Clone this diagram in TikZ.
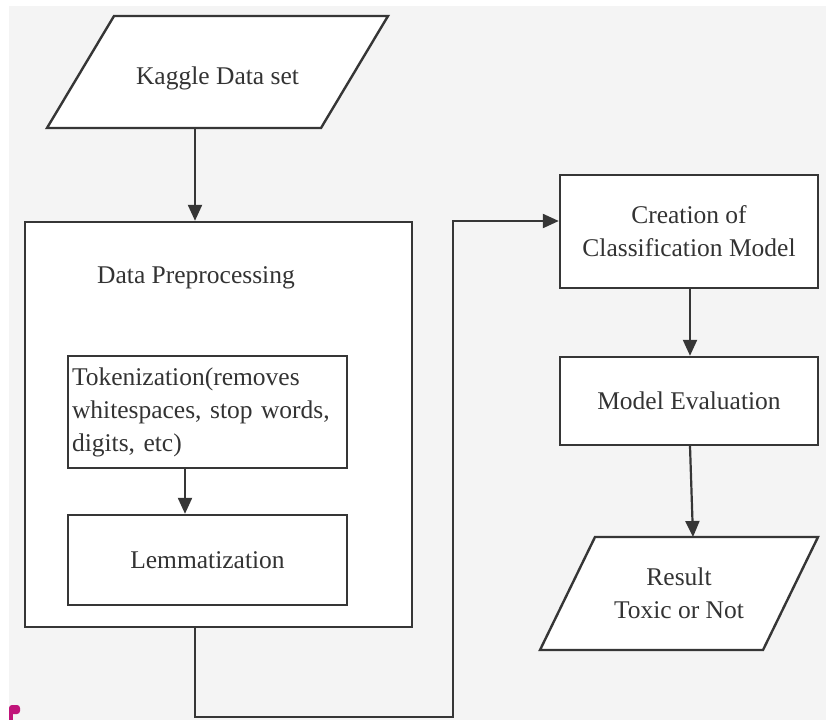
\documentclass[tikz,border=0pt]{standalone}
\usepackage{fontspec}
\setmainfont{Liberation Serif}
\usetikzlibrary{arrows.meta,backgrounds}
\definecolor{paper}{HTML}{F4F4F4}
\definecolor{ink}{HTML}{333333}
\definecolor{edge}{HTML}{363636}
\definecolor{marker}{HTML}{C0147A}
\begin{document}
\begin{tikzpicture}[x=1pt,y=-1pt,
  every node/.style={font=\rmfamily\fontsize{25.5}{33}\selectfont, text=ink},
  stepbox/.style={draw=edge, line width=2.4pt, fill=white, inner sep=0pt, align=center},
  iolabel/.style={inner sep=0pt, outer sep=0pt, align=center},
  iobox/.style={draw=edge, line width=2.4pt, fill=white, line join=miter},
  flow/.style={draw=edge, line width=2.2pt, -{Triangle[length=16pt,width=14pt]}},
  wire/.style={draw=edge, line width=2.2pt}]
\useasboundingbox (0,0) rectangle (826,720);

% input / output labels (their frames are drawn on the background layer)
\node[iolabel, minimum width=341pt, minimum height=112pt,
      text height=31pt, text depth=6pt] (kaggle) at (217.5,72) {Kaggle Data set};
\node[iolabel, minimum width=278pt, minimum height=113pt] (result) at (679,593.5) {Result\\Toxic or Not};

% preprocessing block
\node[stepbox, minimum width=387pt, minimum height=405pt] (prep) at (218.5,424.5) {};
\node[iolabel] (preplabel) at (196,278) {Data Preprocessing};
\node[stepbox, minimum width=279pt, minimum height=112pt, text width=271pt, align=left]
  (tok) at (207.5,412) {Tokenization(removes\\whitespaces, stop words,\\digits, etc)};
\node[stepbox, minimum width=279pt, minimum height=90pt] (lem) at (207.5,560) {Lemmatization};

% model stages
\node[stepbox, minimum width=258pt, minimum height=113pt] (create) at (689,231.5) {Creation of\\Classification Model};
\node[stepbox, minimum width=258pt, minimum height=88pt] (eval) at (689,401) {Model Evaluation};

\begin{scope}[on background layer]
  \fill[white] (0,0) rectangle (826,720);
  \fill[paper] (9,6) rectangle (826,720);
  \draw[iobox] ([xshift=67pt]kaggle.north west) -- (kaggle.north east)
    -- ([xshift=-67pt]kaggle.south east) -- (kaggle.south west) -- cycle;
  \draw[iobox] ([xshift=55pt]result.north west) -- (result.north east)
    -- ([xshift=-55pt]result.south east) -- (result.south west) -- cycle;
  \fill[marker, rounded corners=3pt] (9,705) rectangle (20,714);
  \fill[marker] (9,711) rectangle (13,720);
\end{scope}

% connectors
\coordinate (turn) at (453,717);
\draw[flow] ([xshift=-22.5pt]kaggle.south) -- ([xshift=-22.5pt]kaggle.south |- prep.north);
\draw[flow] ([xshift=-22.5pt]tok.south) -- ([xshift=-22.5pt]tok.south |- lem.north);
\draw[flow] ([xshift=-23.5pt]prep.south) |- (turn) |- ([yshift=10.5pt]create.west);
\draw[flow] ([xshift=1pt]create.south) -- ([xshift=1pt]create.south |- eval.north);
\draw[flow] ([xshift=1pt]eval.south) -- ([xshift=14pt]result.north);
\end{tikzpicture}
\end{document}
